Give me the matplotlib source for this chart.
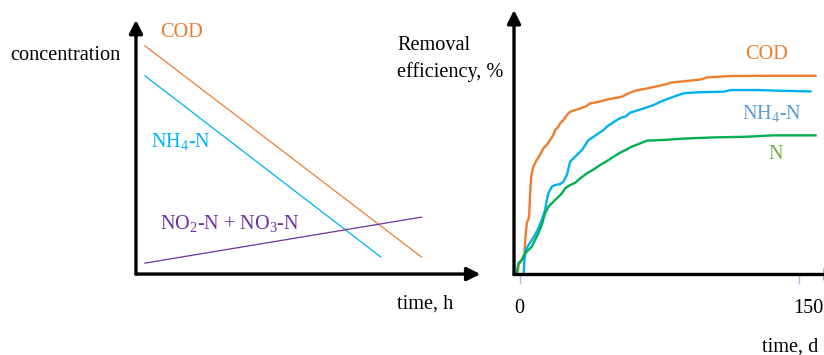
import matplotlib.pyplot as plt

plt.rcParams["font.family"] = ["Liberation Serif", "DejaVu Serif"]
plt.rcParams["mathtext.fontset"] = "custom"
plt.rcParams["mathtext.rm"] = "Liberation Serif"
plt.rcParams["mathtext.it"] = "Liberation Serif:italic"

ORANGE = "#ED7D31"
CYAN = "#00B0F0"
STEEL = "#5B9BD5"
PURPLE = "#7030A0"
GREEN = "#00B050"
OLIVE = "#70AD47"
FS = 14.6

# left panel: schematic concentration vs time (arbitrary units)
line_time = [0.26, 8.29]
cod_conc = [8.98, 0.67]
nh4_time = [0.26, 7.11]
nh4_conc = [7.8, 0.67]
nox_conc = [0.43, 2.24]

# right panel: removal efficiency (%) vs time (d)
cod_day = [-1.0, -0.6, 1.2, 2.6, 3.3, 3.9, 5.1, 5.7, 6.2, 7.4, 9.2, 11.0, 12.8, 14.6,
           16.4, 18.2, 19.1, 20.9, 21.8, 23.6, 25.4, 27.2, 29.9, 32.6, 35.3, 38.0, 42.5,
           47.8, 55.0, 58.6, 62.2, 68.5, 79.3, 81.0, 91.8, 98.1, 100.8, 113.4, 131.3, 159.1]
cod_eff = [0.5, 4.1, 6.3, 9.2, 17.9, 22.2, 25.1, 35.3, 42.5, 46.9, 49.8, 52.0, 54.9, 56.3,
           58.5, 60.7, 62.8, 64.3, 65.7, 67.2, 69.3, 70.8, 71.5, 72.2, 73.0, 74.4, 75.1,
           76.2, 77.3, 78.8, 79.9, 80.9, 82.8, 83.4, 84.3, 84.9, 85.7, 86.3, 86.4, 86.4]

nh4_day = [2.1, 2.6, 3.3, 4.8, 6.6, 8.3, 10.1, 11.9, 13.7, 14.6, 15.5, 17.3, 19.1, 21.8,
           23.6, 25.4, 26.3, 27.2, 29.0, 30.8, 33.5, 35.3, 37.1, 39.8, 42.5, 45.1, 46.9,
           49.6, 52.3, 55.0, 56.8, 59.5, 66.7, 72.1, 75.7, 82.8, 88.2, 95.4, 109.8, 113.4,
           127.7, 140.3, 156.4]
nh4_eff = [-0.9, 6.3, 10.7, 12.8, 15.0, 17.2, 20.1, 23.7, 28.0, 32.4, 35.3, 38.2, 38.9, 39.3,
           40.4, 43.3, 46.2, 49.1, 50.5, 52.0, 54.1, 56.3, 58.5, 59.9, 61.4, 62.8, 64.3,
           65.7, 67.2, 68.3, 68.6, 70.4, 72.2, 73.7, 75.1, 77.3, 78.8, 79.2, 79.5, 80.2,
           80.2, 79.9, 79.6]

n_day = [-1.5, -0.6, 1.2, 3.0, 4.8, 6.6, 8.3, 10.1, 11.9, 13.7, 15.5, 18.2, 20.9, 22.7,
         24.5, 27.2, 29.9, 32.6, 36.2, 39.8, 43.3, 46.9, 50.5, 54.1, 57.7, 59.5, 68.5,
         77.5, 88.2, 104.3, 122.2, 136.5, 159.1]
n_eff = [1.2, 4.9, 6.3, 9.2, 10.7, 12.1, 15.0, 17.9, 21.5, 26.6, 29.5, 31.7, 33.8, 35.3,
         37.5, 38.9, 39.9, 41.8, 44.0, 45.7, 47.6, 49.3, 51.2, 53.0, 54.4, 55.3, 58.2,
         58.5, 59.1, 59.6, 59.9, 60.5, 60.5]

day_ticks = [0, 150]


def draw_arrow_axes(ax, x_end=1.0):
    for tip in [(x_end, 0), (0, 1)]:
        ax.annotate("", xy=tip, xytext=(0, 0), xycoords="axes fraction",
                    annotation_clip=False,
                    arrowprops=dict(arrowstyle="-|>", lw=2.4, color="black",
                                    mutation_scale=20, shrinkA=0, shrinkB=0))
    for s in ax.spines.values():
        s.set_visible(False)


fig = plt.figure(figsize=(8.24, 3.55), dpi=100)

# ---- left panel
ax1 = fig.add_axes([0.165, 0.228, 0.418, 0.716])
ax1.set_xlim(0, 10)
ax1.set_ylim(0, 10)
ax1.set_xticks([])
ax1.set_yticks([])
ax1.patch.set_visible(False)
ax1.plot(line_time, cod_conc, color=ORANGE, lw=0.9)
ax1.plot(nh4_time, nh4_conc, color=CYAN, lw=0.9)
ax1.plot(line_time, nox_conc, color=PURPLE, lw=0.9)
draw_arrow_axes(ax1)
ax1.text(0.69, 9.5, "COD", color=ORANGE, fontsize=FS, va="center")
ax1.text(0.43, 5.2, "NH$_4$-N", color=CYAN, fontsize=FS, va="center")
ax1.text(0.69, 1.97, "NO$_2$-N + NO$_3$-N", color=PURPLE, fontsize=FS, va="center")

fig.text(10 / 824, 1 - 55 / 355, "concentration", fontsize=FS, va="center")
fig.text(397 / 824, 1 - 304 / 355, "time, h", fontsize=FS, va="center")

# ---- right panel
ax2 = fig.add_axes([0.6238, 0.2268, 0.377, 0.745])
ax2.set_xlim(-3, 164)
ax2.set_ylim(0, 115)
ax2.patch.set_visible(False)
ax2.plot(cod_day, cod_eff, color=ORANGE, lw=1.7)
ax2.plot(nh4_day, nh4_eff, color=CYAN, lw=1.7)
ax2.plot(n_day, n_eff, color=GREEN, lw=1.7)
ax2.set_xticks(day_ticks)
ax2.set_xticklabels([])
ax2.set_yticks([])
ax2.tick_params(axis="x", direction="out", length=7, width=1, color="#9DC3E6")
draw_arrow_axes(ax2, x_end=1.05)

ax2.text(day_ticks[0], -0.13, "0", fontsize=FS, ha="center", va="center",
         transform=ax2.get_xaxis_transform())
ax2.text(day_ticks[1] - 3.0, -0.13, "150", fontsize=FS, ha="left", va="center",
         transform=ax2.get_xaxis_transform(), clip_on=False)
ax2.text(121, 95.7, "COD", color=ORANGE, fontsize=FS, va="center")
ax2.text(119.3, 69.8, "NH$_4$-N", color=STEEL, fontsize=FS, va="center")
ax2.text(133.8, 52, "N", color=OLIVE, fontsize=FS, va="center")

fig.text(397 / 824, 1 - 45.5 / 355, "Removal", fontsize=FS, va="center")
fig.text(397 / 824, 1 - 72 / 355, "efficiency, %", fontsize=FS, va="center")
fig.text(761.7 / 824, 1 - 346.7 / 355, "time, d", fontsize=FS, va="center")

fig.savefig("out.png", dpi=100)
